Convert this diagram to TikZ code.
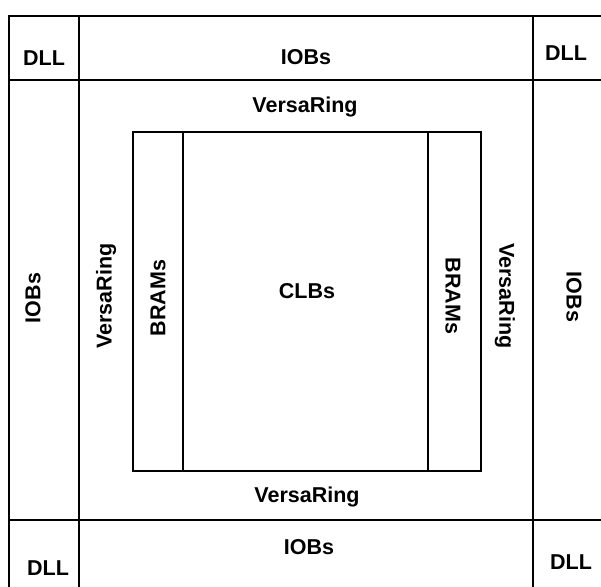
\documentclass[tikz,border=0pt]{standalone}
\usepackage{fontspec}
\setmainfont{Liberation Sans}
\begin{document}
\begin{tikzpicture}[x=1pt,y=-1pt,
  lbl/.style={font=\fontsize{21.5}{25}\selectfont\bfseries, inner sep=0pt},
  outerline/.style={line width=2.8pt},
  innerline/.style={line width=2.4pt}]
\useasboundingbox (0,0) rectangle (601,586);
% outer frame (right and bottom edges lie outside the crop)
\draw[outerline] (9,590) -- (9,16) -- (605,16);
% grid lines
\draw[innerline] (9,80) -- (605,80);
\draw[innerline] (9,520) -- (605,520);
\draw[innerline] (79,16) -- (79,590);
\draw[innerline] (533,16) -- (533,590);
% inner core
\draw[innerline] (133,132) rectangle (481,471);
\draw[innerline] (183,132) -- (183,471);
\draw[innerline] (428,132) -- (428,471);
% labels
\node[lbl] (dlltl) at (44,58) {DLL};
\node[lbl] (iobt) at (306,57) {IOBs};
\node[lbl] (dlltr) at (566,53) {DLL};
\node[lbl] (vrt) at (305,107) {VersaRing};
\node[lbl,rotate=90] (iobl) at (33,298) {IOBs};
\node[lbl,rotate=90] (vrl) at (106,296) {VersaRing};
\node[lbl,rotate=90] (braml) at (158,298) {BRAMs};
\node[lbl] (clb) at (307,291) {CLBs};
\node[lbl,rotate=-90] (bramr) at (453,296) {BRAMs};
\node[lbl,rotate=-90] (vrr) at (505,296) {VersaRing};
\node[lbl,rotate=-90] (iobr) at (574,297) {IOBs};
\node[lbl] (vrb) at (307,497) {VersaRing};
\node[lbl] (iobb) at (309,547) {IOBs};
\node[lbl] (dllbl) at (48,568) {DLL};
\node[lbl] (dllbr) at (571,562) {DLL};
\end{tikzpicture}
\end{document}
